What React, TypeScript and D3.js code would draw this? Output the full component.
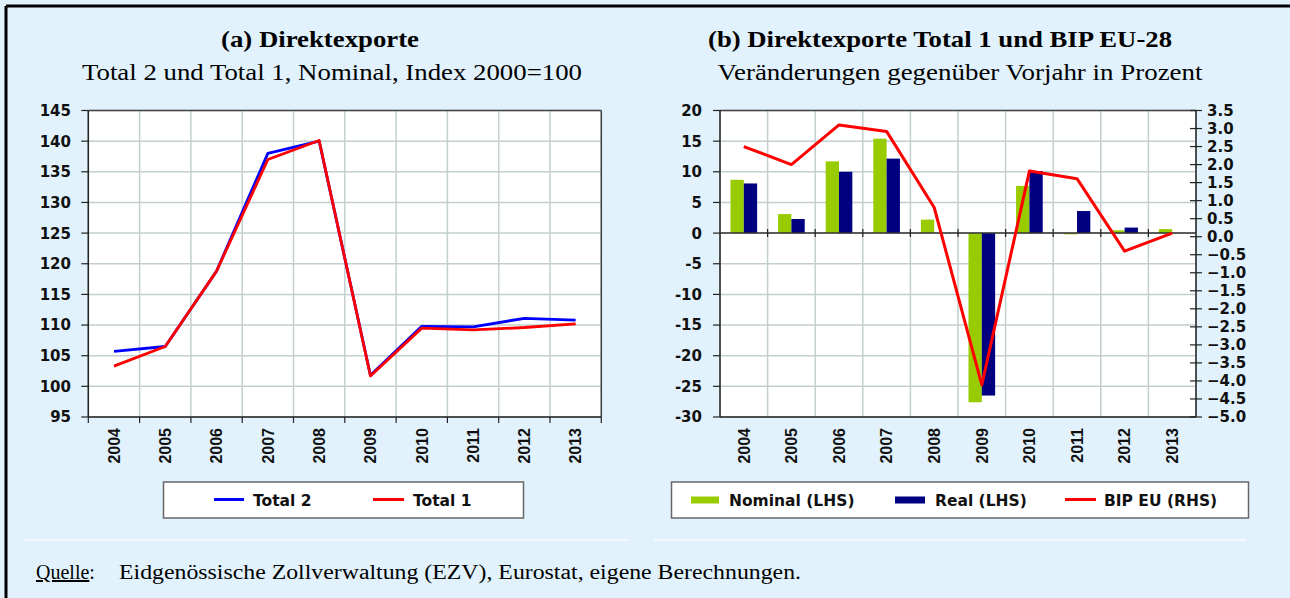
import * as d3 from "d3";
import { useEffect } from "react";

const years = ["2004", "2005", "2006", "2007", "2008", "2009", "2010", "2011", "2012", "2013"];

// (a) index 2000=100
const total2 = [105.7, 106.5, 118.8, 138.0, 140.0, 101.8, 109.8, 109.7, 111.1, 110.8];
const total1 = [103.3, 106.5, 118.8, 137.0, 140.1, 101.7, 109.5, 109.2, 109.6, 110.2];

// (b) change vs previous year, %
const nominal = [8.7, 3.1, 11.7, 15.4, 2.2, -27.6, 7.7, -0.2, 0.45, 0.65];
const real = [8.1, 2.3, 10.0, 12.15, 0, -26.5, 10.1, 3.6, 0.9, 0];
const bipEU = [2.5, 2.0, 3.1, 2.92, 0.81, -4.11, 1.82, 1.61, -0.4, 0.1];

const ticksA = d3.range(95, 146, 5);
const ticksBLeft = d3.range(-30, 21, 5);
const ticksBRight = d3.range(-50, 36, 5).map((d) => d / 10);

const BG = "#e1f2fd";
const GRID = "#c3cfcf";
const SANS = "'DejaVu Sans', sans-serif";
const ARIAL = "'Liberation Sans', Arial, sans-serif";
const SERIF = "'Liberation Serif', 'Times New Roman', serif";

const top = 110.5;
const bottom = 417;

const YearLabels = ({ x }: { x: d3.ScaleBand<string> }) => (
  <g>
    {years.map((yr) => (
      <text
        key={yr}
        transform={`translate(${(x(yr) ?? 0) + x.bandwidth() / 2},${428}) rotate(-90)`}
        dy="0.36em"
        textAnchor="end"
        fontFamily={ARIAL}
        fontWeight="bold"
        fontSize={16}
        fill="#111"
      >
        {yr}
      </text>
    ))}
  </g>
);

const ChartA = () => {
  const x = d3.scaleBand<string>().domain(years).range([88.3, 601.3]);
  const y = d3.scaleLinear().domain([95, 145]).range([bottom, top]);
  const cx = (i: number) => (x(years[i]) ?? 0) + x.bandwidth() / 2;
  const line = d3
    .line<number>()
    .x((d, i) => cx(i))
    .y((d) => y(d));
  const edges = years.map((yr) => x(yr) ?? 0).concat([x.range()[1]]);
  const [x0, x1] = x.range();

  return (
    <g>
      <rect x={x0} y={top} width={x1 - x0} height={bottom - top} fill="#fff" />
      {ticksA.map((t) => (
        <line key={"h" + t} x1={x0} x2={x1} y1={y(t)} y2={y(t)} stroke={GRID} strokeWidth={1.5} />
      ))}
      {edges.map((e, i) => (
        <line key={"v" + i} x1={e} x2={e} y1={top} y2={bottom} stroke={GRID} strokeWidth={1.5} />
      ))}
      <line x1={x0} x2={x1} y1={top} y2={top} stroke="#444" strokeWidth={1.5} />
      <line x1={x1} x2={x1} y1={top} y2={bottom} stroke="#444" strokeWidth={1.5} />
      <line x1={x0} x2={x0} y1={top} y2={bottom} stroke="#222" strokeWidth={1.5} />
      <line x1={x0} x2={x1} y1={bottom} y2={bottom} stroke="#222" strokeWidth={1.5} />
      {ticksA.map((t) => (
        <g key={"t" + t}>
          <line x1={x0 - 7} x2={x0} y1={y(t)} y2={y(t)} stroke="#222" strokeWidth={1.2} />
          <text x={71} y={y(t)} dy="0.36em" textAnchor="end" fontFamily={SANS} fontWeight="bold" fontSize={15} fill="#111">
            {t}
          </text>
        </g>
      ))}
      {edges.map((e, i) => (
        <line key={"xt" + i} x1={e} x2={e} y1={bottom} y2={bottom + 6} stroke="#222" strokeWidth={1.2} />
      ))}
      <YearLabels x={x} />
      <path d={line(total2) ?? ""} fill="none" stroke="#0000ff" strokeWidth={2.8} strokeLinejoin="round" />
      <path d={line(total1) ?? ""} fill="none" stroke="#ff0000" strokeWidth={2.8} strokeLinejoin="round" />

      {/* legend */}
      <rect x={163.5} y={482} width={360} height={36} fill="#fff" stroke="#666" strokeWidth={1.5} />
      <line x1={214} x2={244} y1={499.5} y2={499.5} stroke="#0000ff" strokeWidth={3} />
      <text x={253} y={500} dy="0.36em" fontFamily={SANS} fontWeight="bold" fontSize={15.5} fill="#111">
        Total 2
      </text>
      <line x1={373} x2={404} y1={499.5} y2={499.5} stroke="#ff0000" strokeWidth={3} />
      <text x={413} y={500} dy="0.36em" fontFamily={SANS} fontWeight="bold" fontSize={15.5} fill="#111">
        Total 1
      </text>
    </g>
  );
};

const ChartB = () => {
  const x = d3.scaleBand<string>().domain(years).range([720, 1196]);
  const yL = d3.scaleLinear().domain([-30, 20]).range([bottom, top]);
  const yR = d3.scaleLinear().domain([-5, 3.5]).range([bottom, top]);
  const bw = x.bandwidth() * 0.28;
  const cx = (i: number) => (x(years[i]) ?? 0) + x.bandwidth() / 2;
  const line = d3
    .line<number>()
    .x((d, i) => cx(i))
    .y((d) => yR(d));
  const edges = years.map((yr) => x(yr) ?? 0).concat([x.range()[1]]);
  const [x0, x1] = x.range();
  const fmt = d3.format(".1f");

  return (
    <g>
      <rect x={x0} y={top} width={x1 - x0} height={bottom - top} fill="#fff" />
      {ticksBLeft.map((t) => (
        <line key={"h" + t} x1={x0} x2={x1} y1={yL(t)} y2={yL(t)} stroke={GRID} strokeWidth={1.5} />
      ))}
      {edges.map((e, i) => (
        <line key={"v" + i} x1={e} x2={e} y1={top} y2={bottom} stroke={GRID} strokeWidth={1.5} />
      ))}
      {years.map((yr, i) => (
        <g key={"b" + yr}>
          <rect
            x={cx(i) - bw}
            y={yL(Math.max(0, nominal[i]))}
            width={bw}
            height={Math.abs(yL(nominal[i]) - yL(0))}
            fill="#99cc00"
          />
          <rect
            x={cx(i)}
            y={yL(Math.max(0, real[i]))}
            width={bw}
            height={Math.abs(yL(real[i]) - yL(0))}
            fill="#000080"
          />
        </g>
      ))}
      <line x1={x0} x2={x1} y1={top} y2={top} stroke="#444" strokeWidth={1.5} />
      <line x1={x0} x2={x0} y1={top} y2={bottom} stroke="#222" strokeWidth={1.5} />
      <line x1={x1} x2={x1} y1={top} y2={bottom} stroke="#222" strokeWidth={1.5} />
      <line x1={x0} x2={x1} y1={bottom} y2={bottom} stroke="#222" strokeWidth={1.5} />
      <line x1={x0} x2={x1} y1={yL(0)} y2={yL(0)} stroke="#333" strokeWidth={1.5} />
      {edges.slice(1, -1).map((e, i) => (
        <line key={"zt" + i} x1={e} x2={e} y1={yL(0) - 4} y2={yL(0) + 4} stroke="#222" strokeWidth={1.2} />
      ))}
      {ticksBLeft.map((t) => (
        <g key={"tl" + t}>
          <line x1={x0 - 7} x2={x0} y1={yL(t)} y2={yL(t)} stroke="#222" strokeWidth={1.2} />
          <text x={702} y={yL(t)} dy="0.36em" textAnchor="end" fontFamily={SANS} fontWeight="bold" fontSize={15} fill="#111">
            {t}
          </text>
        </g>
      ))}
      {ticksBRight.map((t) => (
        <g key={"tr" + t}>
          <line x1={x1 - 6} x2={x1 + 6} y1={yR(t)} y2={yR(t)} stroke="#222" strokeWidth={1.2} />
          <text x={1207} y={yR(t)} dy="0.36em" fontFamily={SANS} fontWeight="bold" fontSize={15} fill="#111">
            {fmt(t)}
          </text>
        </g>
      ))}
      <YearLabels x={x} />
      <path d={line(bipEU) ?? ""} fill="none" stroke="#ff0000" strokeWidth={3} strokeLinejoin="round" />

      {/* legend */}
      <rect x={671.5} y={482} width={577} height={36} fill="#fff" stroke="#666" strokeWidth={1.5} />
      <rect x={691} y={496.5} width={28} height={7} fill="#99cc00" />
      <text x={729} y={500} dy="0.36em" fontFamily={SANS} fontWeight="bold" fontSize={15.5} fill="#111">
        Nominal (LHS)
      </text>
      <rect x={895} y={496.5} width={30} height={7} fill="#000080" />
      <text x={935} y={500} dy="0.36em" fontFamily={SANS} fontWeight="bold" fontSize={15.5} fill="#111">
        Real (LHS)
      </text>
      <line x1={1065} x2={1096} y1={499.5} y2={499.5} stroke="#ff0000" strokeWidth={3} />
      <text x={1104} y={500} dy="0.36em" fontFamily={SANS} fontWeight="bold" fontSize={15.5} fill="#111">
        BIP EU (RHS)
      </text>
    </g>
  );
};

const App = () => {
  useEffect(() => {
    document.body.style.margin = "0";
  }, []);

  return (
    <svg width={1290} height={598} style={{ position: "absolute", left: 0, top: 0 }}>
      <rect x={0} y={0} width={1290} height={598} fill={BG} />
      <line x1={6} x2={1290} y1={6} y2={6} stroke="#000" strokeWidth={3} />
      <line x1={6} x2={6} y1={6} y2={598} stroke="#000" strokeWidth={3} />

      <text x={320} y={47} textAnchor="middle" fontFamily={SERIF} fontWeight="bold" fontSize={24} fill="#000"
        textLength={198} lengthAdjust="spacingAndGlyphs">
        (a) Direktexporte
      </text>
      <text x={332} y={80} textAnchor="middle" fontFamily={SERIF} fontSize={23} fill="#000"
        textLength={500} lengthAdjust="spacingAndGlyphs">
        Total 2 und Total 1, Nominal, Index 2000=100
      </text>
      <text x={940} y={47} textAnchor="middle" fontFamily={SERIF} fontWeight="bold" fontSize={24} fill="#000"
        textLength={464} lengthAdjust="spacingAndGlyphs">
        (b) Direktexporte Total 1 und BIP EU-28
      </text>
      <text x={960} y={80} textAnchor="middle" fontFamily={SERIF} fontSize={23} fill="#000"
        textLength={485} lengthAdjust="spacingAndGlyphs">
        Veränderungen gegenüber Vorjahr in Prozent
      </text>

      <ChartA />
      <ChartB />

      <line x1={25} x2={629} y1={540} y2={540} stroke="#f3f9fe" strokeWidth={2} />
      <line x1={654} x2={1246} y1={540} y2={540} stroke="#f3f9fe" strokeWidth={2} />

      <text x={36} y={579} fontFamily={SERIF} fontSize={20} fill="#000">
        <tspan textDecoration="underline">Quelle</tspan>:
      </text>
      <text x={119} y={579} fontFamily={SERIF} fontSize={20} fill="#000" textLength={682} lengthAdjust="spacingAndGlyphs">
        Eidgenössische Zollverwaltung (EZV), Eurostat, eigene Berechnungen.
      </text>
    </svg>
  );
};

export default App;
